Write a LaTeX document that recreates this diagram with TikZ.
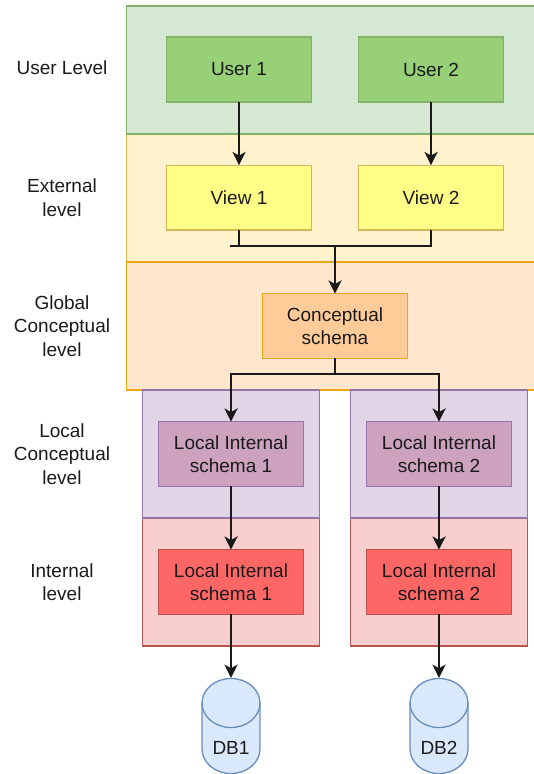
\documentclass[tikz,border=0pt]{standalone}
\usepackage{fontspec}
\setmainfont{Liberation Sans}
\usetikzlibrary{arrows.meta}
\definecolor{gF}{HTML}{D5E8D4}\definecolor{gD}{HTML}{82B366}\definecolor{gI}{HTML}{97D077}
\definecolor{yF}{HTML}{FFF2CC}\definecolor{yD}{HTML}{D6B656}\definecolor{yI}{HTML}{FFFF88}
\definecolor{oF}{HTML}{FFE6CC}\definecolor{oD}{HTML}{E6A817}\definecolor{oI}{HTML}{FFCC99}
\definecolor{pF}{HTML}{E1D5E7}\definecolor{pD}{HTML}{9673A6}\definecolor{pI}{HTML}{CDA2BE}
\definecolor{rF}{HTML}{F8CECC}\definecolor{rD}{HTML}{B85450}\definecolor{rI}{HTML}{FF6666}
\definecolor{bF}{HTML}{DAE8FC}\definecolor{bD}{HTML}{6C8EBF}
\definecolor{ink}{HTML}{1A1A1A}
\tikzset{
  x=0.75pt,y=-0.75pt,
  every node/.style={inner sep=0pt,outer sep=0pt,font=\fontsize{14.25}{17.6}\selectfont,text=ink,align=center},
  block/.style={draw=#1,line width=1pt,rectangle},
  band/.style={block=#1,minimum width=306.75pt,minimum height=96pt},
  lband/.style={block=#1,minimum width=132.75pt,minimum height=96pt},
  inner/.style={block=#1,minimum width=108.75pt,minimum height=48.5pt},
  lab/.style={},
  conn/.style={draw=black!90,line width=1pt},
  arr/.style={conn,-{Stealth[length=10pt,width=10pt,inset=2.8pt]}},
  dbhit/.style={minimum width=43.5pt,minimum height=71.5pt},
  dbline/.style={draw=bD,fill=bF,line width=1pt},
}
\newcommand{\dbshape}[1]{%
  \path[dbline] (#1-29,703) arc[start angle=180,end angle=0,x radius=21.75pt,y radius=18.4pt]
    -- (#1+29,749) arc[start angle=0,end angle=-180,x radius=21.75pt,y radius=18.4pt] -- cycle;
  \draw[bD,line width=1pt] (#1-29,703) arc[start angle=180,end angle=360,x radius=21.75pt,y radius=18.4pt];
}
\begin{document}
\begin{tikzpicture}
\useasboundingbox (0,0) rectangle (533,774);
% bands
\node[band=yD,fill=yF] (bandB) at (331,198) {};
\node[band=gD,fill=gF] (bandA) at (331,70) {};
\node[band=oD,fill=oF] (bandC) at (331,326) {};
\node[lband=rD,fill=rF] (bandE1) at (231,582) {};
\node[lband=rD,fill=rF] (bandE2) at (439,582) {};
\node[lband=pD,fill=pF] (bandD1) at (231,454) {};
\node[lband=pD,fill=pF] (bandD2) at (439,454) {};
% boxes
\node[inner=gD,fill=gI] (user1) at (239,69.5) {User 1};
\node[inner=gD,fill=gI] (user2) at (431,69.5) {User 2};
\node[inner=yD,fill=yI] (view1) at (239,197.5) {View 1};
\node[inner=yD,fill=yI] (view2) at (431,197.5) {View 2};
\node[inner=oD,fill=oI] (concept) at (335,326) {Conceptual\\schema};
\node[inner=pD,fill=pI] (lcs1) at (231,454) {Local Internal\\schema 1};
\node[inner=pD,fill=pI] (lcs2) at (439,454) {Local Internal\\schema 2};
\node[inner=rD,fill=rI] (lis1) at (231,582) {Local Internal\\schema 1};
\node[inner=rD,fill=rI] (lis2) at (439,582) {Local Internal\\schema 2};
% databases
\dbshape{231}\dbshape{439}
\node[dbhit] (db1) at (231,725.5) {};
\node[dbhit] (db2) at (439,725.5) {};
\node (db1t) at (231,747.5) {DB1};
\node (db2t) at (439,747.5) {DB2};
% labels
\node[lab] (l1) at (62,68) {User Level};
\node[lab] (l2) at (62,197.5) {External\\level};
\node[lab] (l3) at (62,326) {Global\\Conceptual\\level};
\node[lab] (l4) at (62,454) {Local\\Conceptual\\level};
\node[lab] (l5) at (62,582) {Internal\\level};
% connector points
\coordinate (stub) at (230,246);
\coordinate (j1) at (239,246);
\coordinate (j2) at (431,246);
\coordinate (jm) at (335,246);
\coordinate (t) at (335,374);
\coordinate (t1) at (231,374);
\coordinate (t2) at (439,374);
% connectors
\draw[arr] (user1.south) -- (view1.north);
\draw[arr] (user2.south) -- (view2.north);
\draw[conn] (view1.south) -- (j1);
\draw[conn] (stub) -- (j2) -- (view2.south);
\draw[arr] (jm) -- (concept.north);
\draw[conn] (concept.south) -- (t);
\draw[arr] (t) -- (t1) -- (lcs1.north);
\draw[arr] (t) -- (t2) -- (lcs2.north);
\draw[arr] (lcs1.south) -- (lis1.north);
\draw[arr] (lcs2.south) -- (lis2.north);
\draw[arr] (lis1.south) -- (db1.north);
\draw[arr] (lis2.south) -- (db2.north);
\end{tikzpicture}
\end{document}
